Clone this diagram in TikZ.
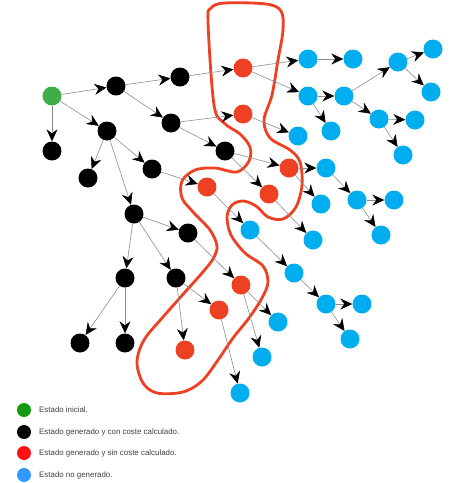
\documentclass[tikz,border=0pt]{standalone}
\usepackage{fontspec}
\setmainfont{Liberation Sans}
\usetikzlibrary{arrows.meta}
\definecolor{vert}{HTML}{3DAE49}
\definecolor{rouge}{HTML}{EE4023}
\definecolor{bleu}{HTML}{00AEEF}
\definecolor{legvert}{HTML}{119911}
\definecolor{legrouge}{HTML}{FF1111}
\definecolor{legbleu}{HTML}{3399FF}
\begin{document}
\begin{tikzpicture}[
        x=1pt, y=-1pt,
        etat/.style = {circle, minimum size=19pt, inner sep=0pt},
        init/.style = {etat, fill=vert},
        noir/.style = {etat, fill=black},
        rge/.style = {etat, fill=rouge},
        ble/.style = {etat, fill=bleu},
        arc/.style = {draw=gray!90, line width=0.6pt,
            -{Stealth[color=black, length=12pt, width=11pt, inset=4pt]}},
        leg/.style = {circle, minimum size=14pt, inner sep=0pt},
        legtxt/.style = {anchor=west, inner sep=0pt, font=\fontsize{7.9}{9}\selectfont, text=black!75}
    ]
        \useasboundingbox (0,0) rectangle (455,483);

        % Contour rouge
        \draw[rouge, line width=2.8pt] plot[smooth cycle, tension=0.55] coordinates {
            (208,22) (214,105) (224,123) (240,134) (250,147) (249,161) (237,172)
            (215,168) (195,170) (182,181) (182,198) (194,213) (210,230) (217,246)
            (213,259) (202,273) (186,291) (163,317) (144,340) (137,362) (143,383)
            (157,393) (183,392) (202,381) (218,360) (233,338) (249,318) (262,298)
            (268,282) (263,266) (245,253) (231,235) (227,217) (232,205) (243,201)
            (256,206) (268,217) (283,219) (296,207) (302,185) (300,162) (290,150)
            (270,138) (264,120) (272,95) (278,60) (283,30) (281,11) (266,4)
            (225,3) (211,8)};

        % Etats
        \node[init] (g) at (52,96) {};
        \node[noir] (n1) at (116,86) {};
        \node[noir] (n2) at (180,77) {};
        \node[noir] (n3) at (52,151) {};
        \node[noir] (n4) at (107,131) {};
        \node[noir] (n5) at (171,123) {};
        \node[noir] (n6) at (88,178) {};
        \node[noir] (n7) at (152,169) {};
        \node[noir] (n8) at (225,151) {};
        \node[noir] (n9) at (134,214) {};
        \node[noir] (n10) at (188,233) {};
        \node[noir] (n11) at (125,278) {};
        \node[noir] (n12) at (176,278) {};
        \node[noir] (n13) at (80,343) {};
        \node[noir] (n14) at (125,343) {};

        \node[rge] (r1) at (243,68) {};
        \node[rge] (r2) at (243,114) {};
        \node[rge] (r3) at (207,187) {};
        \node[rge] (r4) at (289,168) {};
        \node[rge] (r5) at (269,194) {};
        \node[rge] (r6) at (241,285) {};
        \node[rge] (r7) at (219,310) {};
        \node[rge] (r8) at (185,350) {};

        \node[ble] (b1) at (308,59) {};
        \node[ble] (b2) at (353,59) {};
        \node[ble] (b3) at (308,96) {};
        \node[ble] (b4) at (344,96) {};
        \node[ble] (b5) at (331,131) {};
        \node[ble] (b6) at (298,136) {};
        \node[ble] (b7) at (398,62) {};
        \node[ble] (b8) at (433,49) {};
        \node[ble] (b9) at (431,92) {};
        \node[ble] (b10) at (379,119) {};
        \node[ble] (b11) at (415,120) {};
        \node[ble] (b12) at (403,155) {};
        \node[ble] (b13) at (326,168) {};
        \node[ble] (b14) at (321,204) {};
        \node[ble] (b15) at (357,200) {};
        \node[ble] (b16) at (394,200) {};
        \node[ble] (b17) at (381,235) {};
        \node[ble] (b18) at (250,230) {};
        \node[ble] (b19) at (313,240) {};
        \node[ble] (b20) at (294,273) {};
        \node[ble] (b21) at (326,304) {};
        \node[ble] (b22) at (362,304) {};
        \node[ble] (b23) at (350,339) {};
        \node[ble] (b24) at (278,322) {};
        \node[ble] (b25) at (262,357) {};
        \node[ble] (b26) at (240,393) {};

        % Transitions
        \draw[arc] (g) -- (n1);
        \draw[arc] (g) -- (n3);
        \draw[arc] (g) -- (n4);
        \draw[arc] (n1) -- (n2);
        \draw[arc] (n1) -- (n5);
        \draw[arc] (n2) -- (r1);
        \draw[arc] (n4) -- (n6);
        \draw[arc] (n4) -- (n7);
        \draw[arc] (n4) -- (n9);
        \draw[arc] (n5) -- (r2);
        \draw[arc] (n5) -- (n8);
        \draw[arc] (n7) -- (r3);
        \draw[arc] (n8) -- (r4);
        \draw[arc] (n8) -- (r5);
        \draw[arc] (n9) -- (n10);
        \draw[arc] (n9) -- (n11);
        \draw[arc] (n9) -- (n12);
        \draw[arc] (n10) -- (r6);
        \draw[arc] (n11) -- (n13);
        \draw[arc] (n11) -- (n14);
        \draw[arc] (n12) -- (r7);
        \draw[arc] (n12) -- (r8);

        \draw[arc] (r1) -- (b1);
        \draw[arc] (r1) -- (b3);
        \draw[arc] (r2) -- (b6);
        \draw[arc] (r3) -- (b18);
        \draw[arc] (r4) -- (b13);
        \draw[arc] (r4) -- (b14);
        \draw[arc] (r5) -- (b19);
        \draw[arc] (r6) -- (b24);
        \draw[arc] (r6) -- (b25);
        \draw[arc] (r7) -- (b26);

        \draw[arc] (b1) -- (b2);
        \draw[arc] (b3) -- (b4);
        \draw[arc] (b3) -- (b5);
        \draw[arc] (b4) -- (b7);
        \draw[arc] (b4) -- (b10);
        \draw[arc] (b7) -- (b8);
        \draw[arc] (b7) -- (b9);
        \draw[arc] (b10) -- (b11);
        \draw[arc] (b10) -- (b12);
        \draw[arc] (b13) -- (b15);
        \draw[arc] (b15) -- (b16);
        \draw[arc] (b15) -- (b17);
        \draw[arc] (b18) -- (b20);
        \draw[arc] (b20) -- (b21);
        \draw[arc] (b21) -- (b22);
        \draw[arc] (b21) -- (b23);

        % Légende
        \node[leg, fill=legvert] (l1) at (24,410) {};
        \node[leg, fill=black] (l2) at (24,432) {};
        \node[leg, fill=legrouge] (l3) at (24,453) {};
        \node[leg, fill=legbleu] (l4) at (24,475) {};
        \node[legtxt] (t1) at (39,410) {Estado inicial.};
        \node[legtxt] (t2) at (39,432) {Estado generado y con coste calculado.};
        \node[legtxt] (t3) at (39,453) {Estado generado y sin coste calculado.};
        \node[legtxt] (t4) at (39,475) {Estado no generado.};
    \end{tikzpicture}
\end{document}
